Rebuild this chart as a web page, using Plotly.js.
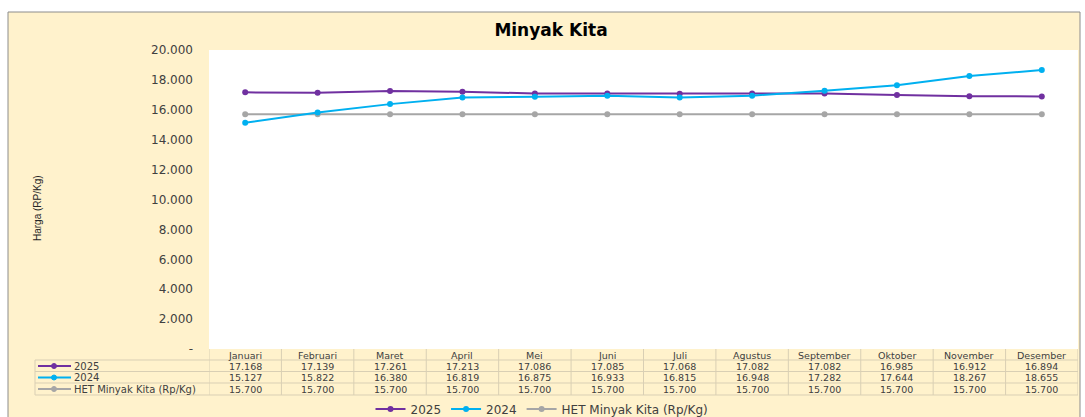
<!DOCTYPE html>
<html>
<head>
<meta charset="utf-8">
<script src="https://cdn.plot.ly/plotly-3.0.1.min.js"></script>
<style>html,body{margin:0;padding:0;background:#fff;}#chart{width:1085px;height:417px;}</style>
</head>
<body>
<div id="chart"></div>
<script>
const months = ["Januari","Februari","Maret","April","Mei","Juni","Juli","Agustus","September","Oktober","November","Desember"];
const seriesNames = ["2025","2024","HET Minyak Kita (Rp/Kg)"];
const values2025 = [17168,17139,17261,17213,17086,17085,17068,17082,17082,16985,16912,16894];
const values2024 = [15127,15822,16380,16819,16875,16933,16815,16948,17282,17644,18267,18655];
const valuesHET = [15700,15700,15700,15700,15700,15700,15700,15700,15700,15700,15700,15700];
const yTickVals = [0,2000,4000,6000,8000,10000,12000,14000,16000,18000,20000];
const yTickText = ["-","2.000","4.000","6.000","8.000","10.000","12.000","14.000","16.000","18.000","20.000"];

const colors = ["#7030A0","#00B0F0","#A6A6A6"];
const allValues = [values2025, values2024, valuesHET];
const FONT = "DejaVu Sans, Arial, sans-serif";
const FONT2 = "Liberation Sans, Arial, sans-serif";
const TXT = "#404040";

// geometry helpers (pixels -> paper)
const L = 209, R = 7, T = 50, B = 68, W = 1085, H = 417;
const PW = W - L - R, PH = H - T - B;
const px = x => (x - L) / PW;
const py = y => (T + PH - y) / PH;

const fmt = n => String(n).replace(/\B(?=(\d{3})+(?!\d))/g, ".");

const traces = allValues.map((vals, i) => ({
  type: "scatter", mode: "lines+markers", name: seriesNames[i],
  x: months, y: vals,
  line: {color: colors[i], width: 2},
  marker: {color: colors[i], size: 6},
  hoverinfo: "skip"
}));
// draw order: HET underneath
const ordered = [traces[2], traces[0], traces[1]];
ordered.forEach((t, k) => t.legendrank = [3,1,2][k]);

const shapes = [];
const annotations = [];
// outer cream panel with border
shapes.push({type:"rect", xref:"paper", yref:"paper", x0:px(8), x1:px(1080), y0:py(430), y1:py(12),
  fillcolor:"#FFF2CC", line:{color:"#8C8C8C", width:1}, layer:"below"});
// white plot area
shapes.push({type:"rect", xref:"paper", yref:"paper", x0:0, x1:1, y0:0, y1:1,
  fillcolor:"#FFFFFF", line:{width:0}, layer:"below"});

// data table grid
const gridColor = "#D9CFB4";
const rowLines = [360, 371.5, 383, 395];
rowLines.forEach(y => shapes.push({type:"line", xref:"paper", yref:"paper", x0:px(35), x1:1, y0:py(y), y1:py(y), line:{color:gridColor, width:1}}));
shapes.push({type:"line", xref:"paper", yref:"paper", x0:px(35), x1:px(35), y0:py(360), y1:py(395), line:{color:gridColor, width:1}});
for (let i = 0; i <= months.length; i++) {
  shapes.push({type:"line", xref:"x", yref:"paper", x0:i-0.5, x1:i-0.5, y0:py(349), y1:py(395), line:{color:gridColor, width:1}});
}

// header row
const headerY = 355;
months.forEach((m, i) => annotations.push({xref:"x", yref:"paper", x:i, y:py(headerY), text:m, showarrow:false,
  xanchor:"center", yanchor:"middle", font:{family:FONT, size:9.5, color:TXT}}));
// value rows
const rowY = [366, 377.5, 389];
allValues.forEach((vals, r) => {
  vals.forEach((v, i) => annotations.push({xref:"x", yref:"paper", x:i, y:py(rowY[r]), text:fmt(v), showarrow:false,
    xanchor:"center", yanchor:"middle", font:{family:FONT, size:9.5, color:TXT}}));
  // legend key in table
  shapes.push({type:"line", xref:"paper", yref:"paper", x0:px(38), x1:px(71), y0:py(rowY[r]), y1:py(rowY[r]), line:{color:colors[r], width:2}});
  shapes.push({type:"circle", xref:"paper", yref:"paper", xsizemode:"pixel", ysizemode:"pixel",
    xanchor:px(54), yanchor:py(rowY[r]), x0:-2.5, x1:2.5, y0:-2.5, y1:2.5, fillcolor:colors[r], line:{color:colors[r], width:1}});
  annotations.push({xref:"paper", yref:"paper", x:px(72), y:py(rowY[r]), text:seriesNames[r], showarrow:false,
    xanchor:"left", yanchor:"middle", font:{family:FONT, size:10, color:TXT}});
});

// y axis title
annotations.push({xref:"paper", yref:"paper", x:px(37), y:py(208), text:"Harga (RP/Kg)", textangle:-90, showarrow:false,
  xanchor:"center", yanchor:"middle", font:{family:FONT2, size:10, color:"#262626"}});

const layout = {
  width: W, height: H,
  margin: {l:L, r:R, t:T, b:B, pad:0},
  paper_bgcolor: "#FFFFFF",
  plot_bgcolor: "#FFFFFF",
  title: {text:"<b>Minyak Kita</b>", x:551/W, xref:"container", xanchor:"center", y:1-30/H, yref:"container", yanchor:"middle",
    font:{family:FONT, size:17, color:"#000000"}},
  xaxis: {type:"category", range:[-0.5, 11.5], showticklabels:false, showgrid:false, zeroline:false, showline:false, ticks:"", fixedrange:true},
  yaxis: {range:[0,20000], tickvals:yTickVals, ticktext:yTickText, showgrid:false, zeroline:false, showline:false, ticks:"",
    ticklabelstandoff:15, tickfont:{family:FONT, size:12, color:TXT}, fixedrange:true},
  showlegend: true,
  legend: {orientation:"h", xref:"container", yref:"container", x:542/W, xanchor:"center", y:(H-409)/H, yanchor:"middle",
    font:{family:FONT, size:12, color:TXT}, bgcolor:"rgba(0,0,0,0)", itemwidth:30, traceorder:"normal"},
  shapes: shapes,
  annotations: annotations
};

Plotly.newPlot("chart", ordered, layout, {displayModeBar:false, staticPlot:true});
</script>
</body>
</html>
